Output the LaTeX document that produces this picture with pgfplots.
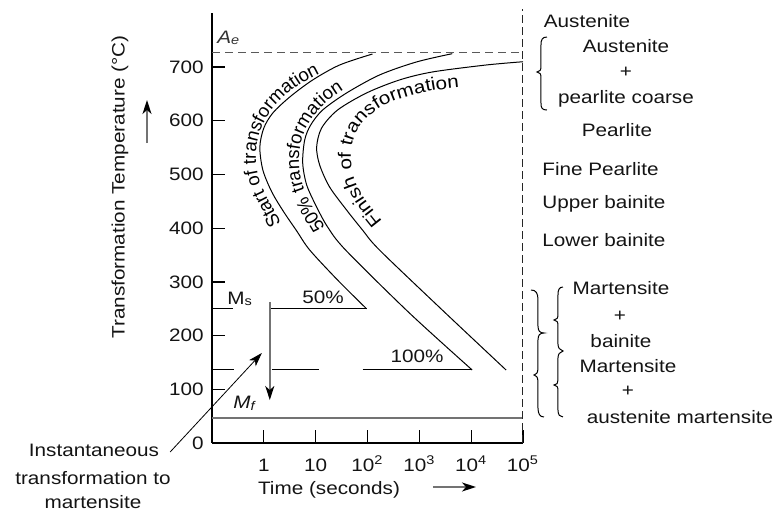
\documentclass[border=0pt]{standalone}
\usepackage{fontspec}
\setmainfont{Liberation Sans}[FakeStretch=1.15]
\newfontfamily\curvefont{Liberation Sans}
\usepackage{pgfplots}
\pgfplotsset{compat=1.18}
\usetikzlibrary{arrows.meta,decorations.text}
\definecolor{txt}{HTML}{141414}
\begin{document}
\fontsize{9bp}{11bp}\selectfont
\begin{tikzpicture}
\useasboundingbox (0,0) rectangle (389bp,255bp);
\begin{axis}[
  at={(106bp,33.5bp)}, anchor=south west,
  scale only axis, width=155.5bp, height=214.8bp,
  xmin=-1, xmax=5, ymin=0, ymax=800,
  axis lines=left, axis line style={-, line width=0.65bp, black},
  tick align=inside, major tick length=6.5bp,
  tick style={black, line width=0.65bp},
  xtick={0,1,2,3,4,5},
  xticklabels={1,10,10\textsuperscript{2},10\textsuperscript{3},10\textsuperscript{4},10\textsuperscript{5}},
  ytick={0,100,200,300,400,500,600,700},
  xticklabel style={anchor=base, yshift=-14.5bp, text=txt},
  yticklabel style={xshift=-1bp, text=txt},
  /pgf/number format/assume math mode=true,
  clip=false,
]
% start of transformation
\addplot[black, line width=0.5bp, smooth] coordinates {
 (1.981,250) (1.423,303.5) (0.885,359.4) (0.635,394.8) (0.385,430.2) (0.154,467.4)
 (-0.019,508.4) (-0.077,551.2) (0.0,586.6) (0.173,614.5) (0.5,644.3) (0.942,676.0)
 (1.462,703.9) (2.096,724.4)};
% 50% transformation
\addplot[black, line width=0.5bp, smooth] coordinates {
 (4.019,136) (2.808,242.1) (1.577,359.4) (1.231,402.2) (1.019,439.5) (0.827,480.4)
 (0.75,521.4) (0.788,564.2) (0.904,592.2) (1.135,620.1) (1.596,651.8) (2.231,685.3)
 (2.942,709.5) (3.635,725)};
% finish of transformation
\addplot[black, line width=0.5bp, smooth] coordinates {
 (4.673,136) (3.442,247.7) (2.231,359.4) (1.904,396.6) (1.596,433.9) (1.269,476.7)
 (1.077,517.7) (1.019,551.2) (1.115,586.6) (1.423,620.1) (1.981,651.8) (2.615,676.0)
 (3.25,690.9) (4.288,703.9) (5,710)};
% Ms level (250) and 100% level (136)
\addplot[black, line width=0.5bp] coordinates {(-1,250) (-0.596,250)};
\addplot[black, line width=0.5bp] coordinates {(0.135,250) (1.981,250)};
\addplot[black, line width=0.5bp] coordinates {(-1,136) (-0.577,136)};
\addplot[black, line width=0.5bp] coordinates {(0.154,136) (1.058,136)};
\addplot[black, line width=0.5bp] coordinates {(1.904,136) (4.019,136)};
% Mf line
\addplot[black!55, line width=0.75bp] coordinates {(-1,47) (5,47)};
% Ae line
\addplot[black!65, line width=0.65bp, dash pattern=on 4bp off 2.5bp] coordinates {(-1,727) (5,727)};
% right boundary
\addplot[black!85, line width=0.5bp, dash pattern=on 4bp off 2bp] coordinates {(5,0) (5,808)};
% vertical arrow Ms -> Mf
\addplot[black!55, line width=0.8bp, -{Stealth[length=7bp,width=4.5bp,inset=2bp,black]}] coordinates {(0.115,262.6) (0.115,80)};
% diagonal arrow
\addplot[black, line width=0.4bp, -{Stealth[length=7bp,width=4.5bp,inset=2bp]}] coordinates {(-1.808,-16.8) (-0.038,167.6)};
\end{axis}

\begin{scope}[text=txt]
% curve labels (coordinates in bp)
\path[decorate, decoration={text along path, text align=left,
  text={|\curvefont\fontsize{9.3bp}{11bp}\selectfont|Start of transformation}}]
  (140.5bp,143bp) to[out=115,in=-90] (128bp,176bp) to[out=90,in=200] (176bp,225bp);
\path[decorate, decoration={text along path, text align=left,
  text={|\curvefont\fontsize{9.3bp}{11bp}\selectfont|50{\%} transformation}}]
  (162.5bp,141bp) to[out=120,in=-90] (149.5bp,175bp) to[out=90,in=205] (186bp,217.5bp);
\path[decorate, decoration={text along path, text align=center,
  text={Finish of transformation}}]
  (192bp,143bp) to[out=128,in=-90] (175.5bp,177bp) to[out=90,in=185] (231bp,211.5bp);
\end{scope}
\begin{scope}[x=0.5bp, y=0.5bp, text=txt]
% axis labels
\node[rotate=90] at (120,323) {Transformation Temperature (°C)};
\draw[black!55, line width=0.8bp, -{Stealth[length=7bp,width=4.5bp,inset=2bp,black]}] (147,367) -- (147,410);
\node[anchor=base] at (329,16) {Time (seconds)};
\draw[black!55, line width=0.8bp, -{Stealth[length=7bp,width=4.5bp,inset=2bp,black]}] (433,23) -- (476,23);
\node[anchor=base] at (94,54) {Instantaneous};
\node[anchor=base] at (93,26) {transformation to};
\node[anchor=base] at (93,2) {martensite};
% in-plot labels
\node[anchor=base west, inner sep=0, text=black!80] at (217,467) {\itshape A\textsubscript{e}};
\node[anchor=base west, inner sep=0] at (227,206) {M\textsubscript{s}};
\node[anchor=base] at (323,207) {50\%};
\node[anchor=base] at (417,148) {100\%};
\node[anchor=base west, inner sep=0] at (233,102) {\itshape M\textsubscript{f}};
% right-side phases
\node[anchor=base] at (587,483) {Austenite};
\node[anchor=base] at (626,458) {Austenite};
\node at (626,438) {+};
\node[anchor=base] at (626,407) {pearlite coarse};
\node[anchor=base] at (617,374) {Pearlite};
\node[anchor=base west, inner sep=0] at (542,335) {Fine Pearlite};
\node[anchor=base west, inner sep=0] at (542,302) {Upper bainite};
\node[anchor=base west, inner sep=0] at (542,264) {Lower bainite};
\node[anchor=base] at (621,216) {Martensite};
\node at (620,194) {+};
\node[anchor=base] at (621,163) {bainite};
\node[anchor=base] at (628,138) {Martensite};
\node at (628,119) {+};
\node[anchor=base] at (680,87) {austenite martensite};
% braces
\draw[black, line width=0.5bp] (547,473) .. controls (542,473) and (541,470) .. (541,465) -- (541,444)
  .. controls (541,440) and (540,438) .. (537,438) .. controls (540,438) and (541,436) .. (541,432)
  -- (541,407) .. controls (541,402) and (542,400) .. (547,400);
\draw[black, line width=0.5bp] (531,220) .. controls (536,220) and (538,217) .. (538,210) -- (538,184)
  .. controls (538,179) and (540,177) .. (544,177) .. controls (540,177) and (538,175) .. (538,170)
  -- (538,142) .. controls (538,137) and (536,135) .. (534,135) .. controls (536,135) and (538,133) .. (538,128)
  -- (538,102) .. controls (538,96) and (540,93) .. (544,93);
\draw[black, line width=0.5bp] (563,223) .. controls (559,223) and (558,220) .. (558,215) -- (558,196)
  .. controls (558,192) and (557,190) .. (554,190) .. controls (557,190) and (558,188) .. (558,184)
  -- (558,166) .. controls (558,162) and (560,160) .. (563,159) .. controls (560,158) and (558,156) .. (558,152)
  -- (558,130) .. controls (558,127) and (557,125) .. (554,125) .. controls (557,125) and (558,123) .. (558,119)
  -- (558,100) .. controls (558,95) and (560,93) .. (563,93);
\end{scope}
\end{tikzpicture}
\end{document}
